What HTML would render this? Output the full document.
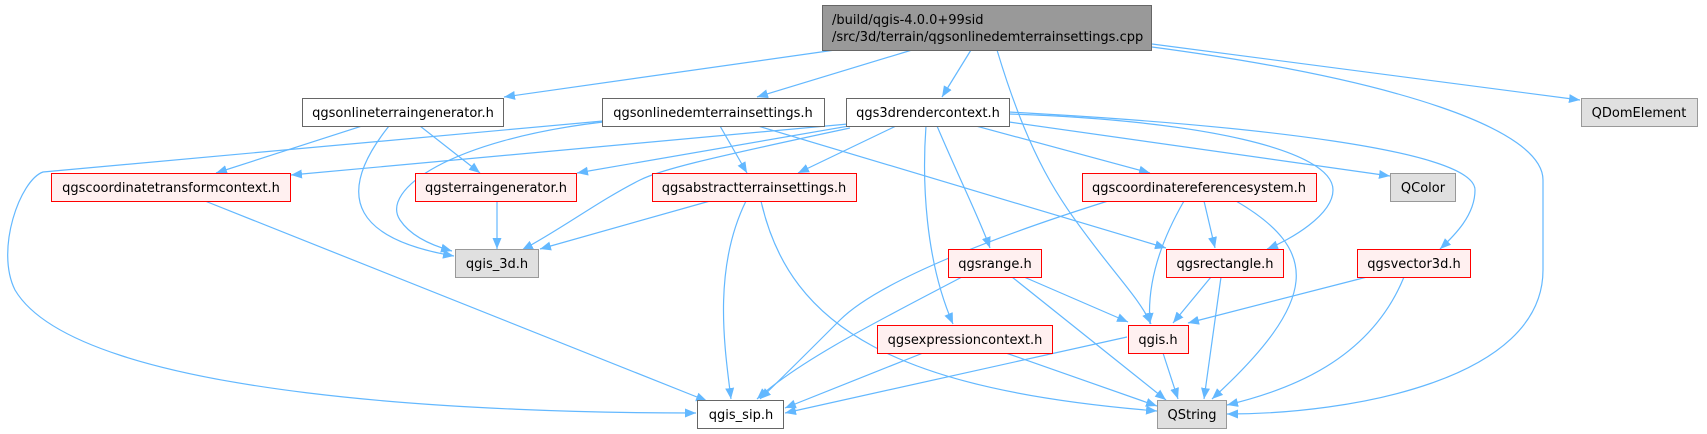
<!DOCTYPE html>
<html><head><meta charset="utf-8"><style>
html,body{margin:0;padding:0;background:#fff;width:1707px;height:434px;overflow:hidden}
svg text{font-family:"DejaVu Sans","Liberation Sans",sans-serif;font-size:13px;fill:#000}
.e{fill:none;stroke:#63b8ff;stroke-width:1.2}
</style></head><body>
<svg width="1707" height="434" viewBox="0 0 1707 434" xmlns="http://www.w3.org/2000/svg">
<defs><marker id="a" markerUnits="userSpaceOnUse" markerWidth="12" markerHeight="10" refX="11" refY="5" orient="auto"><path d="M0,0.5 L11,5 L0,9.5 Z" fill="#63b8ff"/></marker></defs>
<g marker-end="url(#a)">
<path class="e" d="M835,50 L504,97"/>
<path class="e" d="M912,50 L757,97"/>
<path class="e" d="M971,50 L942,97"/>
<path class="e" d="M997,50 C1030,160 1060,200 1090,240 C1120,280 1140,300 1151,324"/>
<path class="e" d="M1152,44 L1580,100"/>
<path class="e" d="M1152,47 C1400,80 1543,130 1543,180 L1543,270 C1543,380 1350,414 1227,414"/>
<path class="e" d="M362,126 L216,173"/>
<path class="e" d="M389,126 C330,200 360,240 454,256"/>
<path class="e" d="M420,126 L480,173"/>
<path class="e" d="M603,121 L43,172 C20,180 -5,250 15,290 C80,400 500,413 696,413"/>
<path class="e" d="M603,122 C450,140 380,190 400,220 C410,235 430,245 452,251"/>
<path class="e" d="M720,126 L747,173"/>
<path class="e" d="M758,126 L1166,248"/>
<path class="e" d="M848,124 L291,175"/>
<path class="e" d="M849,126 L577,173"/>
<path class="e" d="M850,128 C700,160 660,170 640,180 C600,200 560,230 522,250"/>
<path class="e" d="M896,126 L798,173"/>
<path class="e" d="M926,126 C922,180 925,260 953,324"/>
<path class="e" d="M937,126 C960,180 980,220 990,248"/>
<path class="e" d="M976,126 L1150,173"/>
<path class="e" d="M1009,122 L1390,176"/>
<path class="e" d="M1009,114 C1200,120 1333,150 1333,190 C1333,215 1290,240 1267,249"/>
<path class="e" d="M1009,112 C1250,125 1475,150 1475,190 C1475,215 1455,235 1440,249"/>
<path class="e" d="M710,201 L540,249"/>
<path class="e" d="M746,201 C712,270 725,350 731,399"/>
<path class="e" d="M761,201 C790,330 900,390 1157,411"/>
<path class="e" d="M205,201 L707,401"/>
<path class="e" d="M497,201 L497,249"/>
<path class="e" d="M1108,201 C1000,235 880,280 840,320 C810,350 780,380 760,399"/>
<path class="e" d="M1204,201 L1215,248"/>
<path class="e" d="M1184,201 C1150,260 1148,300 1150,324"/>
<path class="e" d="M1236,201 C1320,250 1320,300 1212,399"/>
<path class="e" d="M962,277 C880,320 800,360 757,399"/>
<path class="e" d="M1024,277 L1128,322"/>
<path class="e" d="M1012,277 L1166,400"/>
<path class="e" d="M1211,277 L1173,323"/>
<path class="e" d="M1221,277 L1204,399"/>
<path class="e" d="M1367,277 L1188,323"/>
<path class="e" d="M1404,277 C1370,360 1290,390 1227,405"/>
<path class="e" d="M923,353 L785,408"/>
<path class="e" d="M1006,353 L1157,406"/>
<path class="e" d="M1127,337 L785,413"/>
<path class="e" d="M1163,353 L1178,399"/>
</g>
<rect x="822.5" y="5.5" width="329" height="45" fill="#999" stroke="#666"/>
<text x="832" y="24">/build/qgis-4.0.0+99sid</text>
<text x="832" y="41">/src/3d/terrain/qgsonlinedemterrainsettings.cpp</text>
<g stroke="#666" fill="#fff">
<rect x="302.5" y="98.5" width="201" height="28"/>
<rect x="602.5" y="98.5" width="222" height="28"/>
<rect x="846.5" y="98.5" width="163" height="28"/>
<rect x="697.5" y="400.5" width="86" height="28"/>
</g>
<g stroke="#999" fill="#e0e0e0">
<rect x="1581.5" y="98.5" width="116" height="28"/>
<rect x="1390.5" y="173.5" width="65" height="28"/>
<rect x="455.5" y="249.5" width="83" height="28"/>
<rect x="1157.5" y="400.5" width="69" height="28"/>
</g>
<g stroke="#ff0000" fill="#fff0f0">
<rect x="51.5" y="173.5" width="239" height="28"/>
<rect x="415.5" y="173.5" width="161" height="28"/>
<rect x="652.5" y="173.5" width="204" height="28"/>
<rect x="1082.5" y="173.5" width="234" height="28"/>
<rect x="948.5" y="249.5" width="93" height="28"/>
<rect x="1166.5" y="249.5" width="117" height="28"/>
<rect x="1357.5" y="249.5" width="113" height="28"/>
<rect x="877.5" y="325.5" width="175" height="28"/>
<rect x="1128.5" y="325.5" width="60" height="28"/>
</g>
<g text-anchor="middle">
<text x="403" y="117">qgsonlineterraingenerator.h</text>
<text x="713" y="117">qgsonlinedemterrainsettings.h</text>
<text x="928" y="117">qgs3drendercontext.h</text>
<text x="1639" y="117">QDomElement</text>
<text x="171" y="192">qgscoordinatetransformcontext.h</text>
<text x="496" y="192">qgsterraingenerator.h</text>
<text x="754" y="192">qgsabstractterrainsettings.h</text>
<text x="1199" y="192">qgscoordinatereferencesystem.h</text>
<text x="1423" y="192">QColor</text>
<text x="497" y="268">qgis_3d.h</text>
<text x="995" y="268">qgsrange.h</text>
<text x="1225" y="268">qgsrectangle.h</text>
<text x="1414" y="268">qgsvector3d.h</text>
<text x="965" y="344">qgsexpressioncontext.h</text>
<text x="1158" y="344">qgis.h</text>
<text x="741" y="419">qgis_sip.h</text>
<text x="1192" y="419">QString</text>
</g>
</svg>
</body></html>
